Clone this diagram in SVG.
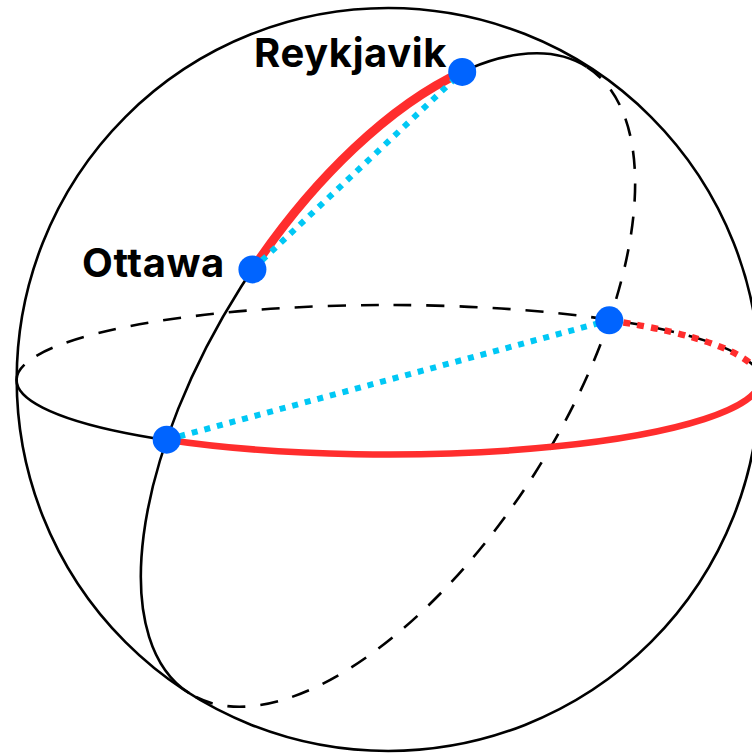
<svg xmlns="http://www.w3.org/2000/svg" width="752" height="753" viewBox="0 0 752 753">
  <style>
    .line { fill: none; stroke: #000; stroke-width: 2.6; }
    .dash { fill: none; stroke: #000; stroke-width: 2.6; stroke-dasharray: 18 15; }
    .red { fill: none; stroke: #ff2d2d; stroke-linecap: butt; }
    .cyan { fill: none; stroke: #00c8f5; stroke-width: 6; stroke-dasharray: 6 7; }
    .reddot { fill: none; stroke: #ff2d2d; stroke-width: 6.5; stroke-dasharray: 7 7; }
    .dot { fill: #0064ff; }
    .label { font-family: Inter, "Liberation Sans", sans-serif; font-weight: 700; font-size: 40px; letter-spacing: 0.6px; fill: #000; }
  </style>
  <rect width="752" height="753" fill="#fff"/>
  <g id="sphere">
    <circle cx="388.2" cy="379.5" r="371.5" class="line"/>
  </g>
  <g id="equator">
    <path class="dash" d="M 16.5 380 A 372 75 0 0 1 388.5 305 A 372 75 0 0 1 760.5 380"/>
    <path class="line" d="M 16.5 380 A 372 75 0 0 0 388.5 455 A 372 75 0 0 0 760.5 380"/>
  </g>
  <g id="meridian">
    <path class="dash" d="M 586.8 66.8 A 371 174 -57.6 0 1 534.9 473.2 A 371 174 -57.6 0 1 189.2 693.2"/>
    <path class="line" d="M 189.2 693.2 A 371 174 -57.6 0 1 241.1 286.8 A 371 174 -57.6 0 1 586.8 66.8"/>
  </g>
  <g id="connectors">
    <path class="red" stroke-width="9" d="M 252.4 269.4 A 371 174 -57.6 0 1 462.2 71.9"/>
    <path class="red" stroke-width="6.5" d="M 166.7 439.7 A 372 75 0 0 0 760.5 380"/>
    <path class="reddot" d="M 609.3 320.3 A 372 75 0 0 1 760.5 380"/>
    <line class="cyan" x1="252.4" y1="269.4" x2="462.2" y2="71.9"/>
    <line class="cyan" x1="166.7" y1="439.7" x2="609.3" y2="320.3"/>
  </g>
  <g id="ottawa">
    <circle class="dot" cx="252.4" cy="269.4" r="14"/>
    <text class="label" x="82" y="277">Ottawa</text>
  </g>
  <g id="reykjavik">
    <circle class="dot" cx="462.2" cy="71.9" r="14"/>
    <text class="label" x="254" y="67">Reykjavik</text>
  </g>
  <g id="point-a">
    <circle class="dot" cx="166.7" cy="439.7" r="14"/>
  </g>
  <g id="point-b">
    <circle class="dot" cx="609.3" cy="320.3" r="14"/>
  </g>
</svg>
